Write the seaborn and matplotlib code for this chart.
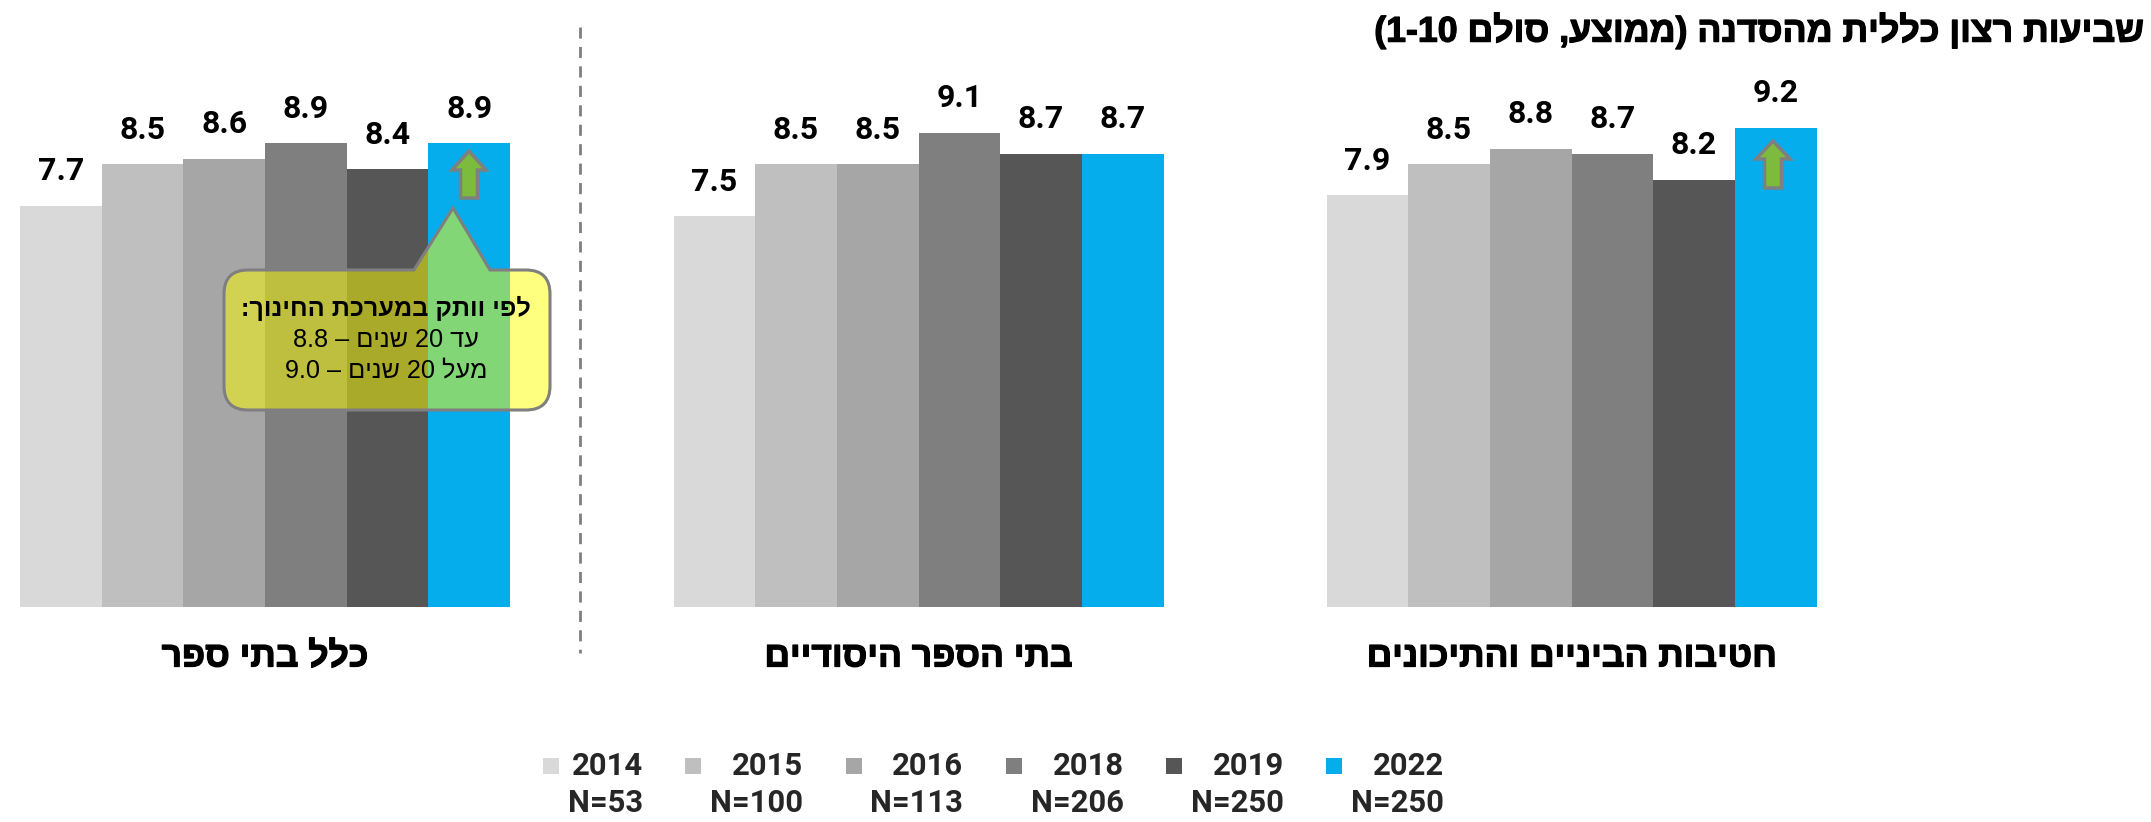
import re
import matplotlib
matplotlib.use('Agg')
import matplotlib.pyplot as plt
import matplotlib.patheffects as pe
import seaborn as sns
from matplotlib.legend_handler import HandlerPatch
from matplotlib.patches import Patch, PathPatch, Polygon, Rectangle
from matplotlib.path import Path
from matplotlib.transforms import Affine2D

years = ['2014', '2015', '2016', '2018', '2019', '2022']
sample_sizes = [53, 100, 113, 206, 250, 250]
colors = ['#D9D9D9', '#BFBFBF', '#A6A6A6', '#7F7F7F', '#565656', '#05ADEC']

all_schools = [7.7, 8.5, 8.6, 8.9, 8.4, 8.9]
elementary = [7.5, 8.5, 8.5, 9.1, 8.7, 8.7]
secondary = [7.9, 8.5, 8.8, 8.7, 8.2, 9.2]

panel_names = ['כלל בתי ספר', 'בתי הספר היסודיים', 'חטיבות הביניים והתיכונים']
title = 'שביעות רצון כללית מהסדנה (ממוצע, סולם 1-10)'
note_head = 'לפי וותק במערכת החינוך:'
note_lines = ['עד 20 שנים – 8.8', 'מעל 20 שנים – 9.0']

W, H = 2151, 822
FONT = ['Roboto', 'Liberation Sans']
HEB = ['Liberation Sans', 'DejaVu Sans']
# the Hebrew in the reference is heavier than Liberation Sans Bold
HEAVY = [pe.withStroke(linewidth=0.9, foreground='black')]


def visual(s):
    # matplotlib has no bidi, so flip the string but keep number runs readable
    s = s[::-1].translate(str.maketrans('()', ')('))
    return re.sub(r'[0-9][0-9.\-]*[0-9]|[0-9]', lambda m: m.group()[::-1], s)


sns.set_theme(style='white')
plt.rcParams['font.family'] = FONT

fig = plt.figure(figsize=(W / 100, H / 100), dpi=100)
px = Affine2D().scale(1 / W, -1 / H).translate(0, 1) + fig.transFigure

panels = [all_schools, elementary, secondary]
lefts = [20, 673.5, 1326.5]
for left, values, name in zip(lefts, panels, panel_names):
    ax = fig.add_axes([left / W, (H - 607) / H, 490 / W, 521 / H])
    sns.barplot(x=years, y=values, hue=years, palette=colors, width=1,
                saturation=1, legend=False, linewidth=0, ax=ax)
    ax.set_xlim(-0.5, 5.5)
    ax.set_ylim(0, 10)
    for cont in ax.containers:
        ax.bar_label(cont, fmt='%.1f', padding=14, fontsize=23,
                     fontweight='bold', color='black')
    ax.axis('off')
    fig.text((left + 245) / W, 1 - 657 / H, visual(name), family=HEB,
             fontsize=25.5, fontweight='bold', ha='center', va='center',
             color='black', path_effects=HEAVY)

fig.text(2142 / W, 1 - 31 / H, visual(title), family=HEB, fontsize=25.7,
         fontweight='bold', ha='right', va='center', color='black',
         path_effects=HEAVY)

# divider between the overall panel and the other two
fig.add_artist(plt.Line2D([580, 580], [27, 653], transform=px, color='#7F7F7F',
                          lw=2, ls=(0, (4, 3))))


def up_arrow(cx, top, head_base, bottom):
    pts = [(cx, top), (cx + 17, head_base), (cx + 8.5, head_base), (cx + 8.5, bottom),
           (cx - 8.5, bottom), (cx - 8.5, head_base), (cx - 17, head_base)]
    fig.add_artist(Polygon(pts, closed=True, transform=px, facecolor='#7DBB3F',
                           edgecolor='#7F7F7F', lw=2.5))


up_arrow(469, 151, 170, 198)
up_arrow(1773, 141, 159, 188)

# speech bubble with the pointer going up to the 2022 bar
l, r, t, b, rad = 224, 550, 270, 410, 24
verts = [(l + rad, t), (414, t), (453, 208), (490, t), (r - rad, t),
         (r, t), (r, t + rad), (r, b - rad), (r, b), (r - rad, b),
         (l + rad, b), (l, b), (l, b - rad), (l, t + rad), (l, t), (l + rad, t)]
codes = [Path.MOVETO, Path.LINETO, Path.LINETO, Path.LINETO, Path.LINETO,
         Path.CURVE3, Path.CURVE3, Path.LINETO, Path.CURVE3, Path.CURVE3,
         Path.LINETO, Path.CURVE3, Path.CURVE3, Path.LINETO, Path.CURVE3, Path.CURVE3]
fig.add_artist(PathPatch(Path(verts, codes), transform=px, facecolor=(1, 1, 0, 0.5),
                         edgecolor='#7F7F7F', lw=2.2))
fig.text(386 / W, 1 - 308 / H, visual(note_head), family=HEB, fontsize=18.2,
         fontweight='bold', ha='center', va='center', color='black')
for y, line in zip([340, 370], note_lines):
    fig.text(386 / W, 1 - y / H, visual(line), family=HEB, fontsize=18.2,
             ha='center', va='center', color='black')


def top_line_square(legend, orig_handle, xdescent, ydescent, width, height, fontsize):
    # the swatch sits next to the year, i.e. the upper of the two text lines
    return Rectangle((0, 16), 11.5, 11.5)


handles = [Patch(facecolor=c, linewidth=0) for c in colors]
labels = [f'{y}\nN={n}' for y, n in zip(years, sample_sizes)]
leg = fig.legend(handles, labels, ncols=6, frameon=False, loc='center',
                 bbox_to_anchor=(993.5 / W, 1 - 784.5 / H), handlelength=0.52,
                 handletextpad=0.28, columnspacing=1.37, borderpad=0, borderaxespad=0,
                 prop={'family': FONT, 'weight': 'bold', 'size': 22.3},
                 handler_map={Patch: HandlerPatch(patch_func=top_line_square)})
for txt in leg.get_texts():
    txt.set_multialignment('right')
    txt.set_linespacing(1.3)

fig.savefig('out.png', dpi=100)
